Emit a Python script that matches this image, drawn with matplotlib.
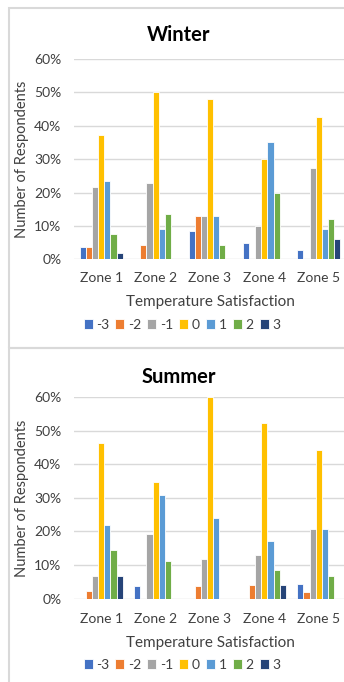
import matplotlib
matplotlib.use("Agg")
import matplotlib.pyplot as plt
import numpy as np
from matplotlib.patches import Rectangle
from matplotlib.ticker import PercentFormatter

zones = ["Zone 1", "Zone 2", "Zone 3", "Zone 4", "Zone 5"]
levels = ["-3", "-2", "-1", "0", "1", "2", "3"]
colors = ["#4472C4", "#ED7D31", "#A5A5A5", "#FFC000", "#5B9BD5", "#70AD47", "#264478"]

# Values in % per satisfaction level, one entry per zone
winter = {
    "-3": [3.7, 0.0, 8.5, 4.9, 2.8],
    "-2": [3.7, 4.4, 12.9, 0.0, 0.0],
    "-1": [21.7, 22.8, 12.9, 9.9, 27.4],
    "0":  [37.3, 50.1, 48.1, 30.1, 42.6],
    "1":  [23.5, 9.0, 12.9, 35.2, 9.0],
    "2":  [7.6, 13.6, 4.2, 20.0, 12.0],
    "3":  [1.9, 0.0, 0.0, 0.0, 6.0],
}
summer = {
    "-3": [0.0, 3.7, 0.0, 0.0, 4.4],
    "-2": [2.3, 0.0, 3.7, 4.1, 2.0],
    "-1": [6.9, 19.1, 11.7, 13.0, 20.7],
    "0":  [46.2, 34.6, 60.0, 52.2, 44.2],
    "1":  [21.8, 30.8, 23.9, 17.1, 20.7],
    "2":  [14.4, 11.2, 0.0, 8.4, 6.7],
    "3":  [6.9, 0.0, 0.0, 4.1, 0.0],
}
yticks = [0, 10, 20, 30, 40, 50, 60]

plt.rcParams['font.family'] = ['Lato', 'DejaVu Sans']
W, H = 344, 682
fig = plt.figure(figsize=(W / 100, H / 100), dpi=100)
txt = "#404040"

def fx(px):
    return px / W

def fy(py):
    return 1 - py / H

# panel frames
fig.patches.append(Rectangle((fx(9), fy(348)), fx(360), fy(8) - fy(348), transform=fig.transFigure,
                             fill=False, edgecolor="#D9D9D9", linewidth=1.5))
fig.patches.append(Rectangle((fx(9), fy(700)), fx(360), fy(348) - fy(700), transform=fig.transFigure,
                             fill=False, edgecolor="#D9D9D9", linewidth=1.5))

def panel(data, title, y0, y60, title_y, zone_y, xlab_y, leg_y):
    ax = fig.add_axes([fx(74), fy(y0), fx(272), fy(y60) - fy(y0)])
    x = np.arange(len(zones))
    n = len(levels)
    bw = 0.79 / n
    for i, lv in enumerate(levels):
        ax.bar(x + (i - (n - 1) / 2) * bw, data[lv], width=bw, color=colors[i],
               edgecolor="white", linewidth=0.6, label=lv, zorder=3)
    ax.set_xlim(-0.5, 4.5)
    ax.set_ylim(0, 60)
    ax.set_yticks(yticks)
    ax.yaxis.set_major_formatter(PercentFormatter(decimals=0))
    ax.grid(axis="y", color="#D9D9D9", linewidth=1.0, zorder=0)
    for s in ax.spines.values():
        s.set_visible(False)
    ax.set_xticks(x)
    ax.set_xticklabels([])
    for xi, z in zip(x, zones):
        fig.text(fx(74 + 272 * (xi + 0.5) / 5), fy(zone_y), z, ha="center", va="center",
                 fontsize=10, color=txt)
    ax.tick_params(axis="both", length=0, labelsize=10, labelcolor=txt)
    ax.tick_params(axis="y", pad=9)
    ax.set_facecolor("none")
    fig.text(fx(179), fy(title_y), title, ha="center", va="center", fontsize=14.5,
             fontweight="bold", color="black")
    fig.text(fx(210), fy(xlab_y), "Temperature Satisfaction", ha="center", va="center",
             fontsize=11, color=txt)
    fig.text(fx(22), fy((y0 + y60) / 2), "Number of Respondents", ha="center", va="center",
             rotation=90, fontsize=10.5, color=txt)
    h, l = ax.get_legend_handles_labels()
    fig.legend(h, l, loc="center", bbox_to_anchor=(fx(182), fy(leg_y)), ncol=7, frameon=False,
               fontsize=10, handlelength=0.65, handleheight=0.65, handletextpad=0.25,
               columnspacing=0.45, borderpad=0, labelcolor=txt)
    return ax

panel(winter, "Winter", 259.3, 59, 35, 278, 302, 325)
panel(summer, "Summer", 598.7, 397, 377, 619, 643, 665)

fig.savefig("out.png", dpi=100, facecolor="white")
